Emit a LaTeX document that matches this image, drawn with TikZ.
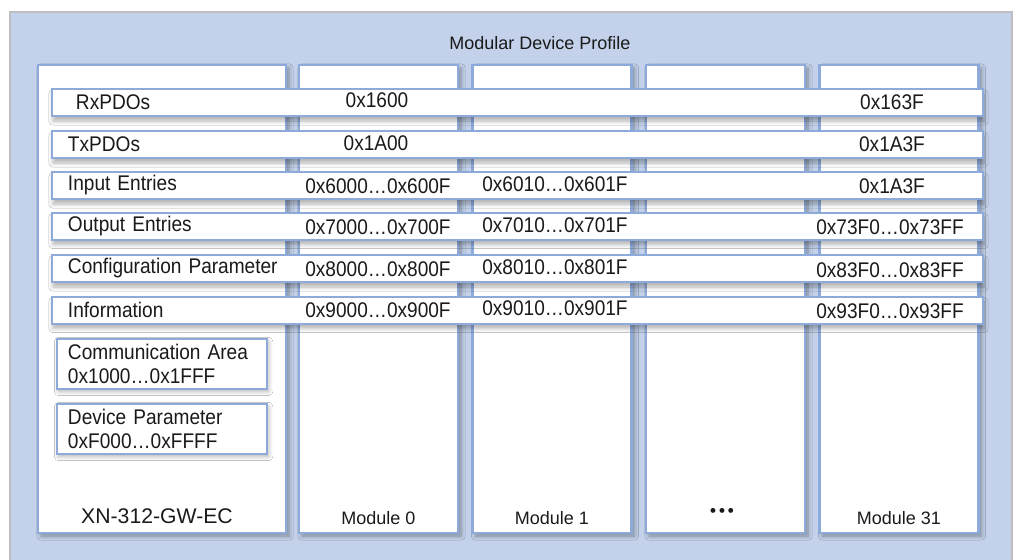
\documentclass[tikz,border=0pt]{standalone}
\usepackage{fontspec}
\setmainfont{Liberation Sans}
\newfontfamily\narrowfont[FakeStretch=0.9]{Liberation Sans}
\usetikzlibrary{positioning, shadows.blur}
\definecolor{profileBg}{HTML}{C3D2EA}
\definecolor{profileFrame}{HTML}{BEBEBE}
\definecolor{slotBlue}{HTML}{8EAADB}
\definecolor{textDark}{HTML}{1A1A1A}
\newcommand{\entryfont}{\narrowfont\fontsize{10.6}{12}\selectfont}

\begin{document}
\begin{tikzpicture}[x=0.5pt, y=-0.5pt,
    slot/.style={rectangle, draw=slotBlue, line width=1.1pt, fill=white,
                 minimum width=79.5pt, minimum height=234pt, inner sep=0pt,
                 blur shadow={shadow xshift=1.5pt, shadow yshift=-1.5pt,
                              shadow opacity=35, shadow blur steps=6}},
    rowbar/.style={rectangle, draw=slotBlue, line width=1pt, fill=white,
                   minimum width=465.5pt, minimum height=13.5pt,
                   text width=449.5pt, inner xsep=8pt, inner ysep=0pt,
                   align=left, font=\entryfont, text=textDark,
                   blur shadow={shadow xshift=0.5pt, shadow yshift=-2.5pt,
                                shadow opacity=30, shadow blur steps=6}},
    areabox/.style={rectangle, draw=slotBlue, line width=1pt, fill=white,
                    minimum width=105pt, minimum height=25pt,
                    text width=94pt, inner xsep=5.5pt, inner ysep=0pt,
                    align=left, font=\entryfont, text=textDark,
                    blur shadow={shadow xshift=0.8pt, shadow yshift=-1.5pt,
                                 shadow opacity=30, shadow blur steps=5}},
    addr/.style={inner sep=0pt, font=\entryfont, text=textDark},
    modlabel/.style={inner sep=0pt, font=\fontsize{9}{10}\selectfont, text=textDark},
  ]
    \clip (0,0) rectangle (1018,559);
    \useasboundingbox (0,0) rectangle (1018,559);

    % outer frame
    \draw[profileFrame, fill=profileBg, line width=1pt] (10,12) rectangle (1012,580);
    \node[modlabel] (title) at (540,43) {Modular Device Profile};

    % gateway and module slots
    \node[slot, minimum width=124pt] (gw) at (162,299) {};
    \node[slot] (m0) at (378.5,299) {};
    \node[slot] (m1) at (552,299) {};
    \node[slot] (mdots) at (725.5,299) {};
    \node[slot] (m31) at (899,299) {};

    \node[inner sep=0pt, font=\fontsize{10.6}{12}\selectfont, text=textDark]
      (gwname) at (157,516) {XN-312-GW-EC};
    \node[modlabel] (m0name) at (378.5,518) {Module 0};
    \node[modlabel] (m1name) at (552,518) {Module 1};
    \node[modlabel, font=\bfseries\fontsize{8.5}{10}\selectfont] (mdotsname) at (722,512) {\textbullet\,\textbullet\,\textbullet};
    \node[modlabel] (m31name) at (899,518) {Module 31};

    % object dictionary rows
    \node[rowbar] (rx) at (517.5,102.5) {\hspace{4pt}RxPDOs};
    \node[rowbar] (tx) at (517.5,144.5) {TxPDOs};
    \node[rowbar] (in) at (517.5,185.5) {Input Entries};
    \node[rowbar] (out) at (517.5,226) {Output Entries};
    \node[rowbar] (cfg) at (517.5,268.5) {Configuration Parameter};
    \node[rowbar] (info) at (517.5,310) {Information};

    \node[addr] (rx0) at (377,100.5) {0x1600};
    \node[addr] (rx31) at (892,102) {0x163F};
    \node[addr] (tx0) at (376,143) {0x1A00};
    \node[addr] (tx31) at (892,144.5) {0x1A3F};
    \node[addr] (in0) at (378,186) {0x6000\ldots0x600F};
    \node[addr] (in1) at (555,184) {0x6010\ldots0x601F};
    \node[addr] (in31) at (892,186) {0x1A3F};
    \node[addr] (out0) at (378,227) {0x7000\ldots0x700F};
    \node[addr] (out1) at (555,225) {0x7010\ldots0x701F};
    \node[addr] (out31) at (890,227.5) {0x73F0\ldots0x73FF};
    \node[addr] (cfg0) at (378,269) {0x8000\ldots0x800F};
    \node[addr] (cfg1) at (555,267) {0x8010\ldots0x801F};
    \node[addr] (cfg31) at (890,270) {0x83F0\ldots0x83FF};
    \node[addr] (info0) at (378,310.5) {0x9000\ldots0x900F};
    \node[addr] (info1) at (555,308.5) {0x9010\ldots0x901F};
    \node[addr] (info31) at (890,311) {0x93F0\ldots0x93FF};

    % gateway areas
    \node[areabox] (comm) at (162,363.5) {Communication Area\\0x1000\ldots0x1FFF};
    \node[areabox] (devpar) at (162,428.5) {Device Parameter\\0xF000\ldots0xFFFF};
  \end{tikzpicture}
\end{document}
